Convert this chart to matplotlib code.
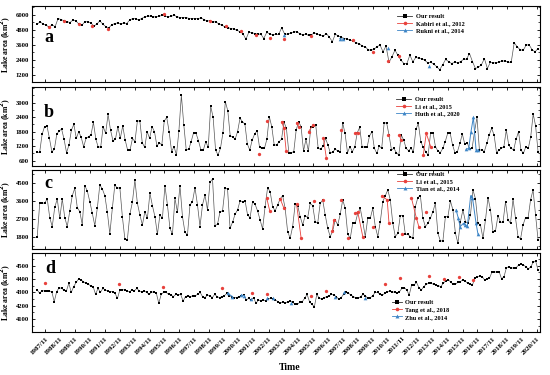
import numpy as np
import matplotlib
matplotlib.use("Agg")
import matplotlib.pyplot as plt
from matplotlib.lines import Line2D
from matplotlib.ticker import AutoMinorLocator

plt.rcParams['font.family'] = ['Liberation Serif', 'DejaVu Serif']
plt.rcParams['font.weight'] = 'bold'

# ---------------- data ----------------
tick_years = list(range(1987, 2021))
tick_labels = [f"{y}/11" for y in tick_years]

# Panel a: our result
a_ours = [5250, 5440, 5250, 5170, 5000, 5200, 5050, 5700, 5620, 5520, 5450, 5380, 5580, 5500,
          5250, 5170, 5440, 5440, 5350, 5100, 5250, 5520, 5250, 5050, 4950, 5200, 5300, 5350,
          5250, 5350, 5300, 5570, 5700, 5700, 5570, 5700, 5830, 5890, 5890, 5830, 5830, 5890,
          5950, 5890, 5830, 5890, 5950, 5830, 5780, 5780, 5780, 5700, 5700, 5700, 5700, 5750,
          5600, 5520, 5500, 5440, 5420, 5250, 5150, 5040, 4960, 4900, 4850, 4750, 4650, 4500,
          4030, 4620, 4560, 4500, 4450, 4450, 4100, 4600, 4450, 4420, 4430, 4430, 4960, 4450,
          4450, 4550, 4600, 4650, 4500, 4400, 4450, 4350, 4400, 4550, 4450, 4350, 4300, 4500,
          4200, 3850, 4450, 4300, 4200, 4100, 4050, 3950, 3900, 3750, 3700, 3500, 3450, 3200,
          3150, 3250, 3450, 3570, 3040, 3500, 2200, 2640, 3170, 2750, 2370, 2100, 2100, 2770,
          2240, 2590, 2510, 2500, 2350, 2160, 2200, 2050, 1850, 1600, 2000, 2430, 2250, 2100,
          2200, 2150, 2250, 2430, 2450, 2900, 2250, 1700, 1800, 2000, 2500, 1700, 2200, 2150,
          2150, 2250, 2300, 2300, 2200, 2200, 3760, 3440, 3200, 3150, 3570, 3600, 3200, 3040,
          3300]
a_kabiri_t = [1988.1, 1989.1, 1990.07, 1990.96, 1992.03, 1995.78, 1998.92, 1999.96, 2000.96,
              2001.96, 2002.9, 2003.85, 2005.67, 2008.47, 2009.8, 2010.8, 2011.6]
a_kabiri_v = [4990, 5490, 5250, 5090, 4900, 6050, 5490, 5120, 4690, 4370, 4160, 4030, 4290,
              3970, 3040, 2290, 2690]
a_rukni_t = [2003.85, 2007.6, 2007.8, 2010.8, 2013.6]
a_rukni_v = [4370, 4100, 4050, 3360, 1920]

# Panel b
b_ours = [946, 946, 1690, 2008, 2036, 1525, 973, 1070, 1690, 1842, 1898, 1484, 932, 1249, 1870,
          2105, 1525, 1801, 1566, 1180, 1525, 1594, 1663, 2187, 1484, 1152, 1180, 2008, 1732,
          2519, 1870, 1428, 1484, 2008, 1525, 2036, 1456, 1042, 1042, 1525, 1387, 2243, 2243,
          1346, 1152, 1801, 1525, 2008, 1801, 1208, 1346, 1249, 2243, 2394, 1801, 973, 1180,
          835, 1842, 3319, 2077, 1042, 1070, 1387, 1760, 1732, 1428, 1042, 1042, 1387, 1152,
          2864, 2394, 1042, 835, 1111, 1732, 3043, 2670, 1622, 1594, 1484, 1801, 2353, 2215,
          2118, 1290, 1042, 1456, 1704, 1842, 1152, 1111, 1111, 1484, 2422, 2008, 1249, 1249,
          1387, 1484,
          2201, 1939, 932, 932, 973, 1870, 2215, 2008, 1001, 1484, 1001, 1980, 1980, 2077, 1111,
          1070, 1208, 1525, 1249, 904, 973, 1070, 1014, 973, 2174, 1732, 932, 1180, 973, 1180,
          1760, 1980, 1152, 1180, 1152, 1622, 1801, 1111, 904, 1208, 1111, 2146, 2174, 1663,
          1042, 1111, 932, 835, 1663, 1456, 1111, 1014, 1111, 973, 1898, 2146, 1387, 1152, 973,
          835, 1732, 1760, 1180, 1001, 932, 1111, 1387, 1732, 1760, 1249, 932, 973, 1318, 1704,
          1290, 1346, 1070, 1111, 1801, 2394, 1042, 1042, 973, 1318, 1663, 1939, 1663, 932,
          1042, 1111, 1180, 1870, 1249, 1111, 1042, 1484, 1801, 1042, 904, 1180, 1111, 1594,
          2532, 2036, 973]
b_li_t = [2002.2, 2002.7, 2003.7, 2003.85, 2004.0, 2004.7, 2004.85, 2005.5, 2005.8, 2006.5,
          2006.7, 2007.7, 2008.65, 2008.8, 2010.8, 2011.6, 2011.7, 2013.2, 2013.4, 2013.7]
b_li_v = [876, 2243, 2215, 1939, 1014, 2174, 2008, 1801, 2077, 1525, 697, 1870, 1760, 1760,
          1663, 1663, 1456, 835, 1732, 1180]
b_huth_t = [2016.07, 2016.25, 2016.4, 2016.56, 2016.74, 2016.9]
b_huth_v = [1070, 1111, 1801, 2394, 1042, 1042]

# Panel c
c_ours = [1801, 3475, 3475, 3491, 3690, 2762, 2315, 3276, 3690, 2729, 3690, 2762, 2315, 3093,
          3856, 4220, 3259, 3060, 2398, 4353, 4088, 3557, 2977, 2365, 3226, 4386, 4187, 3856,
          3027, 1950, 3226, 4386, 4220, 4253, 2812, 1702, 1668, 2928, 3524, 4634, 3475, 2895,
          2398, 3060, 2729, 3972, 3359, 2812, 1934, 2895, 2729, 4353, 3392, 2232, 1934, 3723,
          3027, 4353, 2812, 2033, 1900, 3392, 3557, 4253, 3392, 2315, 3392, 3889, 3143, 4518,
          4684, 2365, 2431, 3060, 3093, 4220, 4187, 2232, 2530, 2928, 3143, 3591, 3557, 3591,
          2895, 2762, 3557, 3425, 3093, 2646, 2199, 3309, 4253, 4055,
          3309, 3093, 3392, 3690, 3856, 3226, 2066, 1735, 2315, 3425, 3359, 2812, 2398, 2862,
          2762, 3475, 3359, 2563, 2481, 3475, 3640, 2895, 2232, 1818, 2099, 2646, 2398, 2928,
          3640, 3226, 1934, 1735, 2481, 2481, 2977, 3226, 2563, 1818, 2729, 2729, 3226, 2315,
          1818, 2563, 3557, 3856, 4137, 3640, 2481, 1818, 1983, 2862, 2862, 1934, 1934, 1818,
          1735, 3309, 3756, 3856, 2729, 2315, 2481, 2729, 3060, 3475, 1983, 1602, 1602, 2812,
          2812, 3591, 3143, 1983, 1486, 2563, 3143, 2563, 2481, 2895, 4137, 3700, 2481, 2398,
          1735, 2646, 3756, 3143, 2066, 2099, 2862, 2530, 2530, 3557, 2646, 2481, 3690, 2729,
          1818, 1702, 2398, 2762, 2729, 3640, 4137, 2895, 1652]
c_li_t = [2002.7, 2002.9, 2003.6, 2003.85, 2004.7, 2005.0, 2005.85, 2006.47, 2007.1, 2007.2,
          2007.67, 2008.16, 2008.65, 2008.8, 2009.14, 2009.8, 2010.43, 2010.78, 2010.9,
          2011.8, 2012.4, 2012.74, 2012.9, 2013.4]
c_li_v = [3723, 3093, 3700, 3226, 3425, 1768, 3591, 3640, 2099, 2646, 3640, 1735, 2977, 3060,
          1818, 2315, 3856, 3640, 2481, 1934, 3756, 2729, 2315, 3060]
c_tian_t = [2015.4, 2015.54, 2015.67, 2015.9, 2016.0, 2016.16, 2016.38, 2016.5, 2016.74, 2016.87]
c_tian_v = [3143, 2762, 2315, 2481, 2398, 2365, 3856, 3756, 2481, 1934]

# Panel d
d_ours = [4318, 4293, 4313, 4310, 4313, 4310, 4305, 4230, 4305, 4335, 4330, 4318, 4310, 4368,
          4300, 4343, 4375, 4400, 4393, 4380, 4368, 4360, 4350, 4343, 4285, 4330, 4300, 4330,
          4318, 4310, 4305, 4305, 4293, 4255, 4318, 4320, 4318, 4310, 4305, 4318, 4313, 4330,
          4310, 4305, 4310, 4300, 4285, 4300, 4305, 4293, 4218, 4285, 4300, 4300, 4285, 4280,
          4268, 4285, 4280, 4285, 4235, 4268, 4275, 4268, 4275, 4275, 4285, 4300, 4268, 4260,
          4280, 4275, 4260, 4285, 4268, 4260, 4268, 4275, 4293, 4275, 4268, 4260, 4260, 4268,
          4275, 4280, 4243, 4255, 4243, 4260, 4218, 4243, 4235, 4243, 4235, 4250, 4255, 4250,
          4243, 4230, 4218,
          4230, 4218, 4230, 4235, 4230, 4210, 4210, 4225, 4230, 4255, 4285, 4230, 4210, 4193,
          4285, 4255, 4250, 4260, 4268, 4275, 4285, 4280, 4268, 4250, 4260, 4285, 4300, 4293,
          4280, 4268, 4260, 4255, 4268, 4285, 4275, 4255, 4260, 4275, 4300, 4300, 4285, 4280,
          4293, 4305, 4310, 4305, 4300, 4293, 4305, 4330, 4335, 4318, 4280, 4355, 4355, 4375,
          4335, 4318, 4343, 4360, 4368, 4368, 4360, 4355, 4350, 4343, 4368, 4385, 4393, 4380,
          4360, 4360, 4375, 4380, 4393, 4385, 4368, 4360, 4355, 4405, 4418, 4422, 4418, 4393,
          4400, 4405, 4450, 4455, 4450, 4455, 4400, 4418, 4485, 4492, 4485, 4480, 4485, 4505,
          4510, 4505, 4492, 4475, 4492, 4525, 4535, 4468]
d_tang_t = [1987.85, 1992.78, 1995.76, 1999.7, 2001.7, 2002.7, 2005.67, 2006.65, 2010.6,
            2011.63, 2013.6, 2014.56, 2015.6, 2016.56]
d_tang_v = [4368, 4360, 4343, 4335, 4293, 4285, 4275, 4310, 4360, 4410, 4425, 4400, 4418, 4393]
d_zhu_t = [2000.07, 2000.4, 2001.0, 2001.18, 2001.67, 2002.7, 2003.1, 2004.34, 2007.3, 2007.85,
           2009.27]
d_zhu_v = [4293, 4268, 4280, 4275, 4250, 4255, 4255, 4218, 4268, 4300, 4255]

T0, T1 = 1987.3, 2020.9

panels = [
    dict(letter='a', ours=a_ours, ylim=(620, 6700), yticks=[1200, 2400, 3600, 4800, 6000],
         refs=[("Kabiri et al., 2012", a_kabiri_t, a_kabiri_v, 'red'),
               ("Rukni et al., 2014", a_rukni_t, a_rukni_v, 'blue')],
         box=(6, 82), leg=(397, 13.5), hl=2.4, letpos=(49, 42)),
    dict(letter='b', ours=b_ours, ylim=(380, 3650), yticks=[600, 1200, 1800, 2400, 3000],
         refs=[("Li et al., 2015", b_li_t, b_li_v, 'red'),
               ("Huth et al., 2020", b_huth_t, b_huth_v, 'blue')],
         box=(87, 166), leg=(396, 96.5), hl=2.4, letpos=(49, 117)),
    dict(letter='c', ours=c_ours, ylim=(1200, 5130), yticks=[1800, 2700, 3600, 4500],
         refs=[("Li et al., 2015", c_li_t, c_li_v, 'red'),
               ("Tian et al., 2014", c_tian_t, c_tian_v, 'blue')],
         box=(170, 249), leg=(397, 171.5), hl=2.4, letpos=(48, 188)),
    dict(letter='d', ours=d_ours, ylim=(4005, 4595), yticks=[4100, 4200, 4300, 4400, 4500],
         refs=[("Tang et al., 2018", d_tang_t, d_tang_v, 'red'),
               ("Zhu et al., 2014", d_zhu_t, d_zhu_v, 'blue')],
         box=(253, 331.7), leg=(392, 300), hl=1.5, letpos=(50, 273)),
]

RED = '#e8413c'
BLUE = '#3d85c6'

W, H = 550, 375
fig = plt.figure(figsize=(5.5, 3.75), dpi=100)


def with_gaps(t, v, gap=0.35):
    t = np.asarray(t, float)
    v = np.asarray(v, float)
    tt, vv = [t[0]], [v[0]]
    for i in range(1, len(t)):
        if t[i] - t[i - 1] > gap:
            tt.append(np.nan)
            vv.append(np.nan)
        tt.append(t[i])
        vv.append(v[i])
    return np.array(tt), np.array(vv)


xl, xr = 32, 540
for k, p in enumerate(panels):
    top, bot = p['box']
    ax = fig.add_axes([xl / W, 1 - bot / H, (xr - xl) / W, (bot - top) / H])
    t = np.linspace(T0, T1, len(p['ours']))
    ax.plot(t, p['ours'], '-', color='#555555', lw=0.5, marker='s', ms=2.0,
            mfc='black', mec='black', mew=0, zorder=3)
    handles = [Line2D([], [], color='#333333', lw=0.6, marker='s', ms=2.2, mfc='black',
                      mec='black', mew=0)]
    labels = ["Our result"]
    for (lab, rt, rv, col) in p['refs']:
        gt, gv = with_gaps(rt, rv)
        if col == 'red':
            ax.plot(gt, gv, '-', color=RED, lw=0.6, marker='o', ms=2.4, mfc=RED, mec=RED,
                    mew=0, zorder=4)
            handles.append(Line2D([], [], color=RED, lw=0.6, marker='o', ms=2.6, mfc=RED,
                                  mec=RED, mew=0))
        else:
            ax.plot(gt, gv, '-', color=BLUE, lw=0.7, marker='^', ms=2.6, mfc=BLUE, mec=BLUE,
                    mew=0, zorder=4)
            handles.append(Line2D([], [], color=BLUE, lw=0.6, marker='^', ms=2.8, mfc=BLUE,
                                  mec=BLUE, mew=0))
        labels.append(lab)

    ax.set_xlim(1986.95, 2021.03)
    ax.set_ylim(*p['ylim'])
    ax.set_yticks(p['yticks'])
    ax.yaxis.set_minor_locator(AutoMinorLocator(2))
    ax.set_xticks([y + 10 / 12 for y in tick_years])
    ax.tick_params(axis='both', which='major', direction='in', length=2.5, width=0.6,
                   top=True, right=True, labelsize=4.8, pad=2)
    ax.tick_params(axis='y', which='minor', direction='in', length=1.4, width=0.5,
                   right=True, left=True)
    for s in ax.spines.values():
        s.set_linewidth(0.8)
    for lbl in ax.get_yticklabels():
        lbl.set_fontweight('bold')
    if k < 3:
        ax.set_xticklabels([])
    else:
        ax.set_xticklabels(tick_labels, rotation=45, ha='right', rotation_mode='anchor',
                           fontsize=5.0, fontweight='bold')
        ax.tick_params(axis='x', pad=3)
    ax.set_ylabel("Lake area (km$^\\mathbf{2}$)", fontsize=5.6, fontweight='bold')
    ax.yaxis.set_label_coords(-0.037, 0.5)
    fig.text(p['letpos'][0] / W, 1 - p['letpos'][1] / H, p['letter'], fontsize=13,
             fontweight='bold', ha='center', va='baseline')
    lx, ly = p['leg']
    ax.legend(handles, labels, loc='upper left', bbox_to_anchor=(lx / W, 1 - ly / H),
              bbox_transform=fig.transFigure, frameon=False,
              handlelength=p['hl'], handletextpad=0.5, labelspacing=0.25, borderpad=0,
              borderaxespad=0, prop={'weight': 'bold', 'size': 4.6})

fig.text(290 / W, 1 - 368 / H, "Time", fontsize=7, fontweight='bold', ha='center',
         va='center')

fig.savefig("out.png", dpi=100)
